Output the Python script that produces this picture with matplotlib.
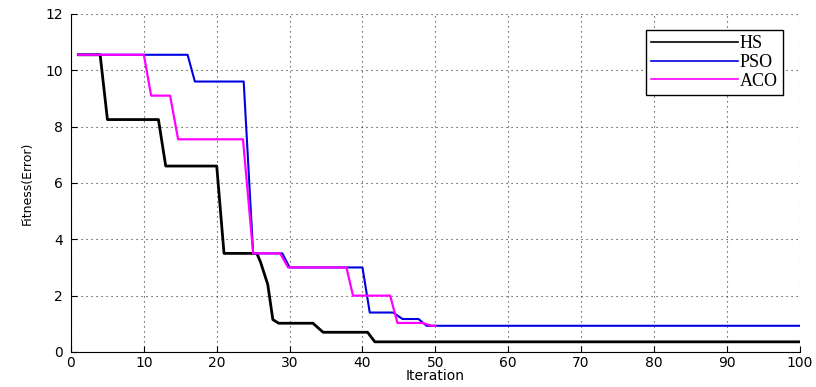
import numpy as np
import matplotlib
matplotlib.use('Agg')
import matplotlib.pyplot as plt

# breakpoints (iteration, fitness)
hs_x = [1, 4, 5, 12, 13, 20, 21, 25.5, 26, 27, 27.7, 28.5, 33.2, 34.6, 40.7, 41.7, 100]
hs_y = [10.55, 10.55, 8.25, 8.25, 6.6, 6.6, 3.5, 3.5, 3.2, 2.4, 1.15, 1.02, 1.02, 0.7, 0.7, 0.36, 0.36]

pso_x = [1, 16, 17, 23.7, 25, 29, 30, 40, 41, 44.2, 45.5, 47.7, 48.8, 100]
pso_y = [10.55, 10.55, 9.6, 9.6, 3.5, 3.5, 3.0, 3.0, 1.4, 1.4, 1.17, 1.17, 0.93, 0.93]

aco_x = [1, 10, 11, 13.6, 14.7, 23.6, 25, 28.7, 29.8, 37.8, 38.7, 43.8, 44.8, 48.2, 49.5, 50]
aco_y = [10.55, 10.55, 9.1, 9.1, 7.55, 7.55, 3.5, 3.5, 3.0, 3.0, 2.0, 2.0, 1.03, 1.03, 0.93, 0.93]

def draw_plot():
    fig = plt.figure(figsize=(8.16, 3.87), dpi=100)
    ax = fig.add_axes([0.087, 0.0905, 0.893, 0.8735])
    ax.plot(hs_x, hs_y, color='black', lw=2.0, label='HS')
    ax.plot(pso_x, pso_y, color='#0000e0', lw=1.5, label='PSO')
    ax.plot(aco_x, aco_y, color='#ff00ff', lw=1.6, label='ACO')
    ax.set_xlim(0, 100)
    ax.set_ylim(0, 12)
    ax.set_xticks(np.arange(0, 101, 10))
    ax.set_yticks(np.arange(0, 13, 2))
    ax.grid(True, color='#333333', linestyle=(0, (1, 3.5)), lw=0.8)
    ax.spines['top'].set_visible(False)
    ax.spines['right'].set_visible(False)
    ax.tick_params(direction='in', length=4, labelsize=10)
    ax.tick_params(axis='x', pad=3)
    ax.tick_params(axis='y', pad=6)
    ax.set_xlabel('Iteration', fontsize=10, labelpad=-1)
    ax.set_ylabel('Fitness(Error)', fontsize=9, labelpad=8)
    leg = ax.legend(loc='upper right', bbox_to_anchor=(0.99, 0.98), fancybox=False,
                    edgecolor='black', framealpha=1, borderpad=0.3, labelspacing=0.1,
                    handlelength=4.8, handletextpad=0.1,
                    prop={'family': 'Liberation Serif', 'size': 13})
    leg.get_frame().set_linewidth(1.0)
    for line in leg.get_lines():
        line.set_linewidth(1.2)
    fig.savefig('out.png', dpi=100)

if __name__ == '__main__':
    draw_plot()
